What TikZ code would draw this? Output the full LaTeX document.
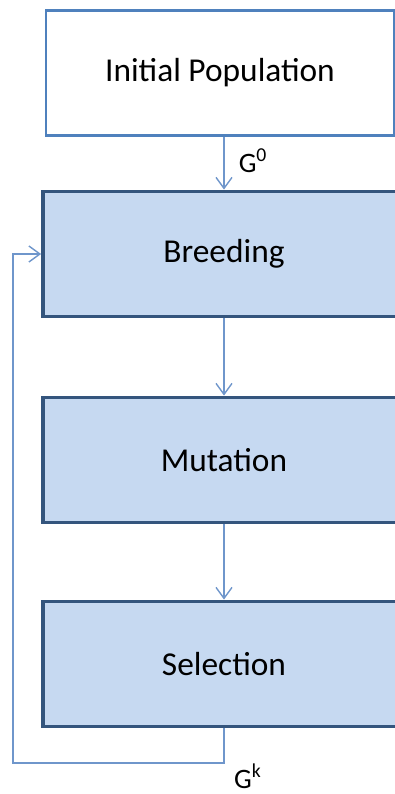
\documentclass[tikz,border=0pt]{standalone}
\usepackage{fontspec}
\setmainfont{Carlito}
\usetikzlibrary{arrows.meta}
\definecolor{boxline}{HTML}{4F81BD}
\definecolor{stepfill}{HTML}{C6D9F1}
\definecolor{stepline}{HTML}{34557D}
\definecolor{flowline}{HTML}{6F96CB}
\tikzset{
  initbox/.style={draw=boxline, line width=1.6pt, fill=white, minimum width=6.96cm, minimum height=2.5cm, font=\fontsize{19}{22}\selectfont},
  stepbox/.style={draw=stepline, line width=2.2pt, fill=stepfill, minimum width=7.24cm, minimum height=2.5cm, font=\fontsize{19}{22}\selectfont,
    path picture={
      \draw[white, line width=2pt] (path picture bounding box.north west) ++(0.07,-0.07) -- ++(7.2,0);
      \draw[white!60!stepfill, line width=1.5pt] (path picture bounding box.north west) ++(0.07,-0.07) -- ++(0,-2.4);
      \draw[black!30, line width=2pt] (path picture bounding box.south west) ++(0.07,0.07) -- ++(7.2,0);
    }},
  flow/.style={draw=flowline, line width=0.8pt, -{Straight Barb[length=2.2mm, width=3.2mm]}},
  glabel/.style={font=\fontsize{16}{18}\selectfont, inner sep=0pt}
}
\begin{document}
\begin{tikzpicture}[x=0.02cm, y=-0.02cm]
  \useasboundingbox (0,0) rectangle (395,794);
  \begin{scope}
    \clip (0,0) rectangle (395,794);
    \node[initbox] (init) at (220,73) {Initial Population};
    \node[stepbox] (breed) at (224,254) {Breeding};
    \node[stepbox] (mut) at (224,460) {Mutation};
    \node[stepbox] (sel) at (224,664) {Selection};
  \end{scope}
  \coordinate (loop) at (13,763);
  \draw[flow] (breed.north |- init.south) -- (breed.north)
    node[glabel, pos=0.45, right=8pt] (g0) {G\textsuperscript{0}};
  \draw[flow] (breed.south) -- (mut.north);
  \draw[flow] (mut.south) -- (sel.north);
  \draw[flow] (sel.south) |- (loop) |- (breed.west);
  \node[glabel] (gk) at (248,776) {G\textsuperscript{k}};
\end{tikzpicture}
\end{document}
